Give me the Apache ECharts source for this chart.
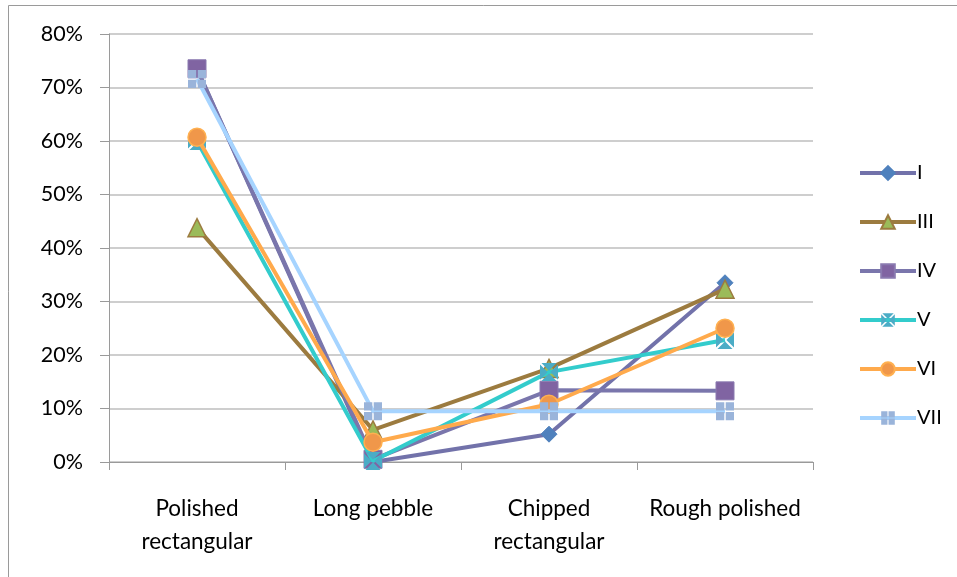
<!DOCTYPE html>
<html><head><meta charset="utf-8">
<script src="https://cdn.jsdelivr.net/npm/echarts@6/dist/echarts.min.js"></script>
<style>html,body{margin:0;padding:0;background:#fff}#c{width:957px;height:577px}</style>
</head><body><div id="c"></div>
<script>
var categories = ['Polished\nrectangular', 'Long pebble', 'Chipped\nrectangular', 'Rough polished'];
var seriesNames = ['I', 'III', 'IV', 'V', 'VI', 'VII'];
var sI   = [73.5, 0, 5.2, 33.5];
var sIII = [43.8, 6, 17.5, 32.3];
var sIV  = [73.5, 0.5, 13.4, 13.3];
var sV   = [60, 0.2, 16.8, 22.8];
var sVI  = [60.7, 3.7, 10.8, 25];
var sVII = [71.6, 9.5, 9.5, 9.5];
var yTicks = [0, 10, 20, 30, 40, 50, 60, 70, 80];

var plusSq = 'path://M0,0h4.6v4.6h-4.6z M5.4,0h4.6v4.6h-4.6z M0,5.4h4.6v4.6h-4.6z M5.4,5.4h4.6v4.6h-4.6z';
var xSq = 'path://M0.8,0 L9.2,0 L5,4.2 Z M10,0.8 L10,9.2 L5.8,5 Z M9.2,10 L0.8,10 L5,5.8 Z M0,9.2 L0,0.8 L4.2,5 Z';

var styles = [
  {data: sI,   line: '#7272AA', symbol: 'diamond', size: 16, fill: '#4F81BD', border: '#4F81BD', bw: 1},
  {data: sIII, line: '#9C7B3F', symbol: 'triangle', size: 18, fill: '#9BBB59', border: '#9C7B3F', bw: 1.5},
  {data: sIV,  line: '#7A76AC', symbol: 'rect', size: 18, fill: '#8064A2', border: '#8A7AB0', bw: 1},
  {data: sV,   line: '#33CCCC', symbol: xSq, size: 18, fill: '#4BACC6', border: '#4BACC6', bw: 0},
  {data: sVI,  line: '#FFAA4C', symbol: 'circle', size: 18, fill: '#F0974A', border: '#FFB050', bw: 1.5},
  {data: sVII, line: '#A6D4FF', symbol: plusSq, size: 18, fill: '#9AB4DA', border: '#9AB4DA', bw: 0}
];

var series = styles.map(function (s, i) {
  return {
    name: seriesNames[i], type: 'line', data: s.data,
    symbol: s.symbol, symbolSize: s.size, showAllSymbol: true,
    lineStyle: {color: s.line, width: 4},
    itemStyle: {color: s.fill, borderColor: s.border, borderWidth: s.bw},
    emphasis: {disabled: true}, z: 2 + i
  };
});

var legendData = styles.map(function (s, i) {
  return {name: seriesNames[i], lineStyle: {width: 4, color: s.line}};
});

var chart = echarts.init(document.getElementById('c'), null, {renderer: 'canvas'});
chart.setOption({
  animation: false,
  backgroundColor: '#fff',
  graphic: [{type: 'rect', shape: {x: 8.5, y: 5.5, width: 1000, height: 1000}, style: {fill: null, stroke: '#9A9A9A', lineWidth: 1}, silent: true}],
  grid: {left: 109, right: 144, top: 34, bottom: 115, containLabel: false},
  legend: {
    orient: 'vertical', left: 853, top: 158, itemGap: 29, itemWidth: 56, itemHeight: 17,
    data: legendData,
    textStyle: {fontFamily: 'Lato', fontSize: 20, color: '#000', padding: [0, 0, 0, -4]}
  },
  xAxis: {
    type: 'category', data: categories, boundaryGap: true,
    axisLine: {lineStyle: {color: '#9A9A9A', width: 1}},
    axisTick: {show: true, length: 8, lineStyle: {color: '#9A9A9A'}},
    axisLabel: {fontFamily: 'Lato', fontSize: 22.5, color: '#000', margin: 30, lineHeight: 33, interval: 0}
  },
  yAxis: {
    type: 'value', min: 0, max: 80, interval: 10,
    axisLine: {show: true, lineStyle: {color: '#9A9A9A'}},
    axisTick: {show: true, length: 9, lineStyle: {color: '#9A9A9A'}},
    splitLine: {lineStyle: {color: '#BEBEBE', width: 1.5}},
    axisLabel: {fontFamily: 'Lato', fontSize: 21.5, color: '#000', margin: 26, formatter: function (v) { return v + '%'; }}
  },
  series: series
});
</script></body></html>
